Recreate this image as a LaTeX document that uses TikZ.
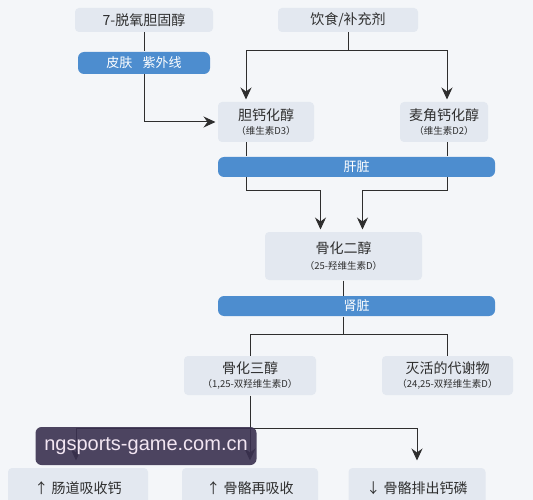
\documentclass[tikz,border=0pt]{standalone}
\usepackage{fontspec}
\setmainfont{Noto Sans CJK SC}
\newfontfamily\wmfont{Liberation Sans}
\usetikzlibrary{arrows.meta}

\definecolor{bgpale}{HTML}{F4F6F9}
\definecolor{boxgray}{HTML}{E3E8F0}
\definecolor{barblue}{HTML}{4D8DCF}
\definecolor{inkgray}{HTML}{2E2E2E}
\definecolor{wmpurple}{HTML}{3A3150}

\tikzset{
    pale/.style={fill=boxgray, rounded corners=4pt, text=inkgray, align=center, inner sep=0pt},
    organ/.style={fill=barblue, rounded corners=6pt, text=white, inner sep=0pt, minimum height=20pt, font=\fontsize{13}{13}\selectfont},
    flow/.style={-{Stealth[length=12pt,width=11pt,inset=4pt]}, shorten >=2pt},
}
\newcommand{\subtxt}[1]{{\fontsize{9.5}{10}\selectfont （#1）}}

\begin{document}
\begin{tikzpicture}[x=1pt, y=-1pt, line width=1pt, draw=inkgray, font=\fontsize{14}{16}\selectfont]
    \fill[bgpale] (0,0) rectangle (533,500);
    \useasboundingbox (0,0) rectangle (533,500);
    \clip (0,0) rectangle (533,500);

    % sources
    \node[pale, minimum width=138pt, minimum height=24pt] (dehydro) at (144,20) {7-脱氧胆固醇};
    \node[pale, minimum width=140pt, minimum height=24pt] (diet) at (348,20) {饮食/补充剂};
    \node[organ, minimum width=132pt, minimum height=22pt] (skin) at (144,63) {皮肤\hspace{0.8em}紫外线};

    % vitamin D3 / D2
    \node[pale, minimum width=96pt, minimum height=40pt] (dthree) at (266,122) {胆钙化醇\\[-2pt]\subtxt{维生素D3}};
    \node[pale, minimum width=88pt, minimum height=40pt] (dtwo) at (444,122) {麦角钙化醇\\[-2pt]\subtxt{维生素D2}};
    \node[organ, minimum width=277pt] (liver) at (356.5,167) {肝脏};

    \node[pale, minimum width=157pt, minimum height=48pt] (calcidiol) at (343.5,256) {骨化二醇\\[0pt]\subtxt{25-羟维生素D}};
    \node[organ, minimum width=277pt] (kidney) at (356.5,306) {肾脏};

    \node[pale, minimum width=132pt, minimum height=39pt] (calcitriol) at (250,375.5) {骨化三醇\\[-2pt]\subtxt{1,25-双羟维生素D}};
    \node[pale, minimum width=131pt, minimum height=39pt] (inactive) at (447.5,375.5) {灭活的代谢物\\[-2pt]\subtxt{24,25-双羟维生素D}};

    % effects
    \node[pale, minimum width=140pt, minimum height=40pt] (gut) at (78,488) {↑ 肠道吸收钙};
    \node[pale, minimum width=136pt, minimum height=40pt] (bone) at (250,488) {↑ 骨骼再吸收};
    \node[pale, minimum width=137pt, minimum height=40pt] (excrete) at (417,488) {↓ 骨骼排出钙磷};

    \coordinate (lcol) at (246,0);
    \coordinate (rcol) at (447,0);

    % connectors
    \draw (dehydro.south) -- (skin.north);
    \draw[flow] (skin.south) |- (dthree.west);
    \draw (diet.south) -- ++(0,18) coordinate (dj);
    \draw[flow] (dj) -| (dthree.north -| lcol);
    \draw[flow] (dj) -| (dtwo.north -| rcol);
    \draw (dthree.south -| lcol) -- (liver.north -| lcol);
    \draw (dtwo.south -| rcol) -- (liver.north -| rcol);
    \draw[flow] (liver.south -| lcol) -- ++(0,13) -| ([xshift=-23pt]calcidiol.north);
    \draw[flow] (liver.south -| rcol) -- ++(0,13) -| ([xshift=19pt]calcidiol.north);
    \draw (calcidiol.south) -- (kidney.north -| calcidiol.south);
    \draw (kidney.south -| calcidiol.south) -- ++(0,18) coordinate (kj);
    \draw (kj) -| (calcitriol.north);
    \draw (kj) -| (inactive.north);
    \draw (calcitriol.south) -- ++(0,33) coordinate (ej);
    \draw[flow, shorten >=7pt] (ej) -| ([xshift=-2pt]gut.north);
    \draw[flow, shorten >=7pt] (ej) -- (bone.north);
    \draw[flow, shorten >=7pt] (ej) -| (excrete.north);

    % watermark
    \node[fill=wmpurple, fill opacity=0.9, text opacity=1, text=white!90!violet, rounded corners=6pt, minimum width=221pt, minimum height=38pt, inner sep=0pt, font=\wmfont\fontsize{20}{20}\selectfont] (wm) at (146,446) {ngsports-game.com.cn};
\end{tikzpicture}
\end{document}
